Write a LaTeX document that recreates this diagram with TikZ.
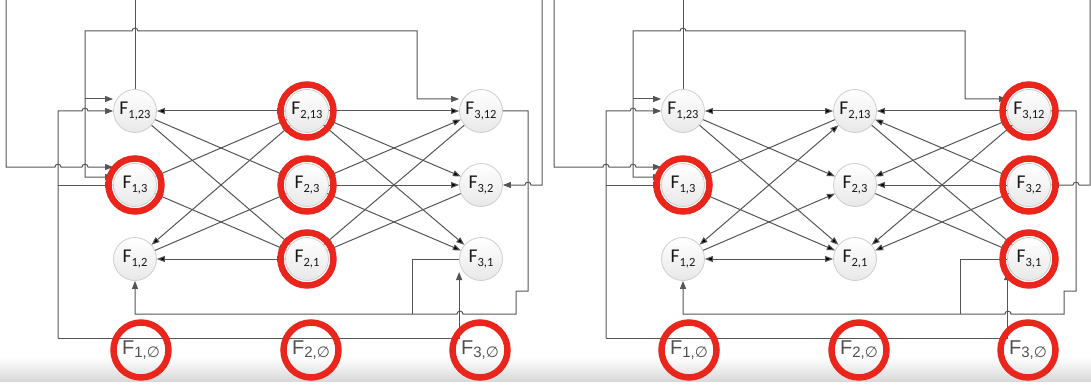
\documentclass[tikz,border=0pt]{standalone}
\usepackage{fontspec}
\setmainfont{Carlito}
\newfontfamily\zerofont{Liberation Sans}
\newfontfamily\symfont{DejaVu Sans}
\usetikzlibrary{arrows.meta}
\definecolor{edge_gray}{RGB}{85,85,85}
\definecolor{node_gray}{RGB}{205,205,205}
\definecolor{ring_red}{RGB}{234,38,28}
\definecolor{zero_gray}{RGB}{80,80,80}
\newcommand{\idx}[1]{\raisebox{-4pt}{\fontsize{12.5}{12.5}\selectfont #1}}
\newcommand{\zidx}[1]{\raisebox{-2.5pt}{\fontsize{15}{15}\selectfont #1,{\symfont ∅}}}

\begin{document}
\begin{tikzpicture}[x=1pt,y=-1pt,>={Triangle[length=8pt,width=6pt]}]
    \tikzstyle{fnode}=[draw=node_gray, line width=0.8pt, circle, minimum size=43pt, inner sep=0pt, top color=white, bottom color=gray!18, text=black!90, font=\fontsize{19.5}{19.5}\selectfont]
    \tikzstyle{zero}=[inner sep=0pt, text=zero_gray, font=\zerofont\fontsize{20}{20}\selectfont]
    \tikzstyle{wire}=[draw=edge_gray, line width=1pt]
    \tikzstyle{ring}=[draw=ring_red, line width=6.5pt]
    \tikzstyle{hopover}=[out=90, in=90, looseness=1.6]

    \useasboundingbox (0,0) rectangle (1091,385);
    \shade[top color=white, bottom color=gray!30] (0,357) rectangle (1091,381);

    \foreach \pan/\dx in {L/0pt,R/548pt}{
    \begin{scope}[xshift=\dx]
        \node[fnode] (\pan F123) at (135,111) {F\idx{1,23}};
        \node[fnode] (\pan F13)  at (135,185) {F\idx{1,3}};
        \node[fnode] (\pan F12)  at (135,259) {F\idx{1,2}};
        \node[fnode] (\pan F213) at (307,111) {F\idx{2,13}};
        \node[fnode] (\pan F23)  at (307,185) {F\idx{2,3}};
        \node[fnode] (\pan F21)  at (307,259) {F\idx{2,1}};
        \node[fnode] (\pan F312) at (481,111) {F\idx{3,12}};
        \node[fnode] (\pan F32)  at (481,185) {F\idx{3,2}};
        \node[fnode] (\pan F31)  at (481,259) {F\idx{3,1}};
        \node[zero]  (\pan F10)  at (141,350) {F\zidx{1}};
        \node[zero]  (\pan F20)  at (311,350) {F\zidx{2}};
        \node[zero]  (\pan F30)  at (480,350) {F\zidx{3}};

        \path[->, wire]
         (\pan F123) edge[<->] (\pan F213)
         (\pan F123) edge (\pan F23)
         (\pan F123) edge (\pan F21)
         (\pan F213) edge (\pan F13)
         (\pan F13)  edge[<->] (\pan F21)
         (\pan F213) edge[<->] (\pan F12)
         (\pan F12)  edge (\pan F23)
         (\pan F12)  edge[<->] (\pan F21)
         (\pan F213) edge[<->] (\pan F32)
         (\pan F213) edge (\pan F31)
         (\pan F312) edge[<->] (\pan F23)
         (\pan F312) edge (\pan F21)
         (\pan F23)  edge (\pan F31)
         (\pan F32)  edge (\pan F21)
         ;

        % wiring round the outside
        \draw[->, wire] (6,0) -- (6,167) -- (55,167) to[hopover] (61,167) -- (82,167) to[hopover] (88,167) -- (6,167 -| \pan F13.west);
        \draw[wire] (\pan F123) -- (135,0);
        \draw[<->, wire] (85,177 -| \pan F13.west) -- (85,177) -- (85,31) -- (132,31) to[hopover] (138,31) -- (417,31) -- (417,99) -- (417,99 -| \pan F312.west);
        \draw[->, wire] (85,99) -- (85,99 -| \pan F123.west);
        \draw[->, wire] (58,338) -- (58,111) -- (82,111) to[hopover] (88,111) -- (\pan F123.west);
        \draw[->, wire] (58,185) -- (\pan F13.west);
        \draw[->, wire] (58,338) -- (\pan F31.west |- 0,338) -- ([yshift=-13pt]\pan F31.west);
        \draw[->, wire] (\pan F312.east) -- (528,111) -- (528,291) -- (516,291) -- (516,314) -- (463,314) to[hopover] (457,314) -- (\pan F12 |- 0,314) -- (\pan F12.south);
        \draw[wire] (\pan F31.west) -- (412,259) -- (412,314);
        \draw[->, wire] (542,0) -- (542,185) -- (531,185) to[hopover] (525,185) -- (\pan F32.east);
    \end{scope}
    }

    % the two panels differ here
    \path[->, wire]
     (LF213) edge (LF312)
     (LF23)  edge (LF32)
     (RF312) edge (RF213)
     (RF32)  edge (RF23)
     ;

    \foreach \n in {F213,F23,F21,F13} \draw[ring] (L\n) circle (26.5);
    \foreach \n in {F312,F32,F31,F13} \draw[ring] (R\n) circle (26.5);
    \foreach \n in {F10,F20,F30} {\draw[ring] (L\n) circle (27.5); \draw[ring] (R\n) circle (27.5);}
\end{tikzpicture}
\end{document}
